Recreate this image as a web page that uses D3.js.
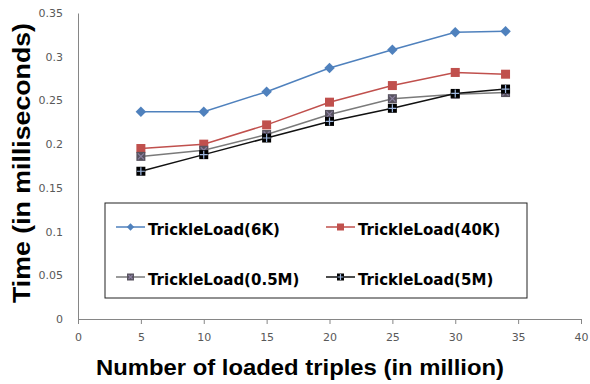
<!DOCTYPE html>
<html>
<head>
<meta charset="utf-8">
<script src="https://cdn.jsdelivr.net/npm/d3@7"></script>
<style>
  body { margin: 0; background: #fff; }
  .tick text { font-family: "DejaVu Sans", sans-serif; font-size: 11px; fill: #595959; }
  .axisTitle { font-family: "Liberation Sans", Arial, sans-serif; font-weight: bold; fill: #000; }
  .legendText { font-family: "DejaVu Sans", sans-serif; font-weight: bold; font-size: 16.5px; fill: #000; }
</style>
</head>
<body>
<div class="chart"></div>
<script>
var svgWidth = 590;
var svgHeight = 384;

// data
var xValues = [5, 10, 15, 20, 25, 30, 34];
var load6K   = [0.237, 0.237, 0.260, 0.287, 0.308, 0.328, 0.329];
var load40K  = [0.195, 0.200, 0.222, 0.248, 0.267, 0.282, 0.280];
var load05M  = [0.186, 0.193, 0.211, 0.234, 0.252, 0.257, 0.259];
var load5M   = [0.169, 0.188, 0.207, 0.226, 0.241, 0.258, 0.263];
var seriesNames = ["TrickleLoad(6K)", "TrickleLoad(40K)", "TrickleLoad(0.5M)", "TrickleLoad(5M)"];
var xTicks = [0, 5, 10, 15, 20, 25, 30, 35, 40];
var yTicks = [0, 0.05, 0.1, 0.15, 0.2, 0.25, 0.3, 0.35];

var series = [
  { name: seriesNames[0], values: load6K,  color: "#4F81BD", marker: "diamond" },
  { name: seriesNames[1], values: load40K, color: "#C0504D", marker: "square" },
  { name: seriesNames[2], values: load05M, color: "#7a7a7a", marker: "xsquare" },
  { name: seriesNames[3], values: load5M,  color: "#111111", marker: "plussquare" }
];

var svg = d3.select(".chart")
  .append("svg")
  .attr("width", svgWidth)
  .attr("height", svgHeight);

var xScale = d3.scaleLinear().domain([0, 40]).range([78, 581]);
var yScale = d3.scaleLinear().domain([0, 0.35]).range([319, 13]);

// y axis (no tick marks, just the line + labels)
var leftAxis = d3.axisLeft(yScale)
  .tickValues(yTicks)
  .tickSize(0)
  .tickPadding(15)
  .tickFormat(function(d) { return d === 0 ? "0" : d3.format("")(+d.toFixed(2)); });

svg.append("g")
  .attr("transform", "translate(78,0)")
  .call(leftAxis)
  .call(function(g) { g.select(".domain").attr("stroke", "#868686"); });

var bottomAxis = d3.axisBottom(xScale)
  .tickValues(xTicks)
  .tickSizeInner(5)
  .tickSizeOuter(0)
  .tickPadding(9);

svg.append("g")
  .attr("transform", "translate(0,319)")
  .call(bottomAxis)
  .call(function(g) {
    g.select(".domain").attr("stroke", "#868686");
    g.selectAll(".tick line").attr("stroke", "#868686");
  });

// markers
function drawMarker(g, type, color, s) {
  if (type === "diamond") {
    g.append("path")
      .attr("d", d3.symbol().type(d3.symbolSquare).size(s * s * 0.55)())
      .attr("transform", "rotate(45)")
      .attr("fill", color);
  } else {
    g.append("rect")
      .attr("x", -s / 2).attr("y", -s / 2)
      .attr("width", s).attr("height", s)
      .attr("fill", type === "square" ? color : (type === "xsquare" ? "#58535f" : "#000"));
    var h = s / 2 - 1.5;
    if (type === "xsquare") {
      g.append("path")
        .attr("d", "M" + (-h) + "," + (-h) + "L" + h + "," + h + "M" + (-h) + "," + h + "L" + h + "," + (-h))
        .attr("stroke", "#8a7fa0").attr("stroke-width", 1.2);
    }
    if (type === "plussquare") {
      g.append("path")
        .attr("d", "M0," + (-h - 1) + "V" + (h + 1) + "M" + (-h - 1) + ",0H" + (h + 1))
        .attr("stroke", "#9fb8e0").attr("stroke-width", 1.2);
    }
  }
}

var line = d3.line()
  .x(function(d) { return xScale(d[0]); })
  .y(function(d) { return yScale(d[1]); });

series.forEach(function(s) {
  var pts = xValues.map(function(x, i) { return [x, s.values[i]]; });
  svg.append("path")
    .datum(pts)
    .attr("d", line)
    .attr("fill", "none")
    .attr("stroke", s.color)
    .attr("stroke-width", 1.5);
  pts.forEach(function(p) {
    var g = svg.append("g").attr("transform", "translate(" + xScale(p[0]) + "," + yScale(p[1]) + ")");
    drawMarker(g, s.marker, s.color, s.marker === "diamond" ? 10 : 9);
  });
});

// legend
var legend = svg.append("g");
legend.append("rect")
  .attr("x", 105).attr("y", 203)
  .attr("width", 422).attr("height", 95)
  .attr("fill", "#fff")
  .attr("stroke", "#222")
  .attr("stroke-width", 1);

var legendPos = [[116, 227], [326, 227], [116, 277], [326, 277]];
series.forEach(function(s, i) {
  var lx = legendPos[i][0], ly = legendPos[i][1];
  legend.append("line")
    .attr("x1", lx).attr("x2", lx + 29)
    .attr("y1", ly).attr("y2", ly)
    .attr("stroke", s.color).attr("stroke-width", 1.5);
  var g = legend.append("g").attr("transform", "translate(" + (lx + 14.5) + "," + ly + ")");
  drawMarker(g, s.marker, s.color, 7);
  var t = legend.append("text")
    .attr("class", "legendText")
    .attr("x", lx + 32)
    .attr("y", ly + 7.5)
    .text(s.name);
  // the reference font is a little narrower than DejaVu bold
  var w = t.node().getComputedTextLength();
  t.attr("textLength", w * 0.91).attr("lengthAdjust", "spacingAndGlyphs");
});

// axis titles
svg.append("text")
  .attr("class", "axisTitle")
  .attr("x", 300).attr("y", 375)
  .attr("text-anchor", "middle")
  .style("font-size", "22.5px")
  .attr("textLength", 408)
  .attr("lengthAdjust", "spacingAndGlyphs")
  .text("Number of loaded triples (in million)");

svg.append("text")
  .attr("class", "axisTitle")
  .attr("transform", "translate(30,163) rotate(-90)")
  .attr("text-anchor", "middle")
  .style("font-size", "24px")
  .attr("textLength", 280)
  .attr("lengthAdjust", "spacingAndGlyphs")
  .text("Time (in milliseconds)");
</script>
</body>
</html>
